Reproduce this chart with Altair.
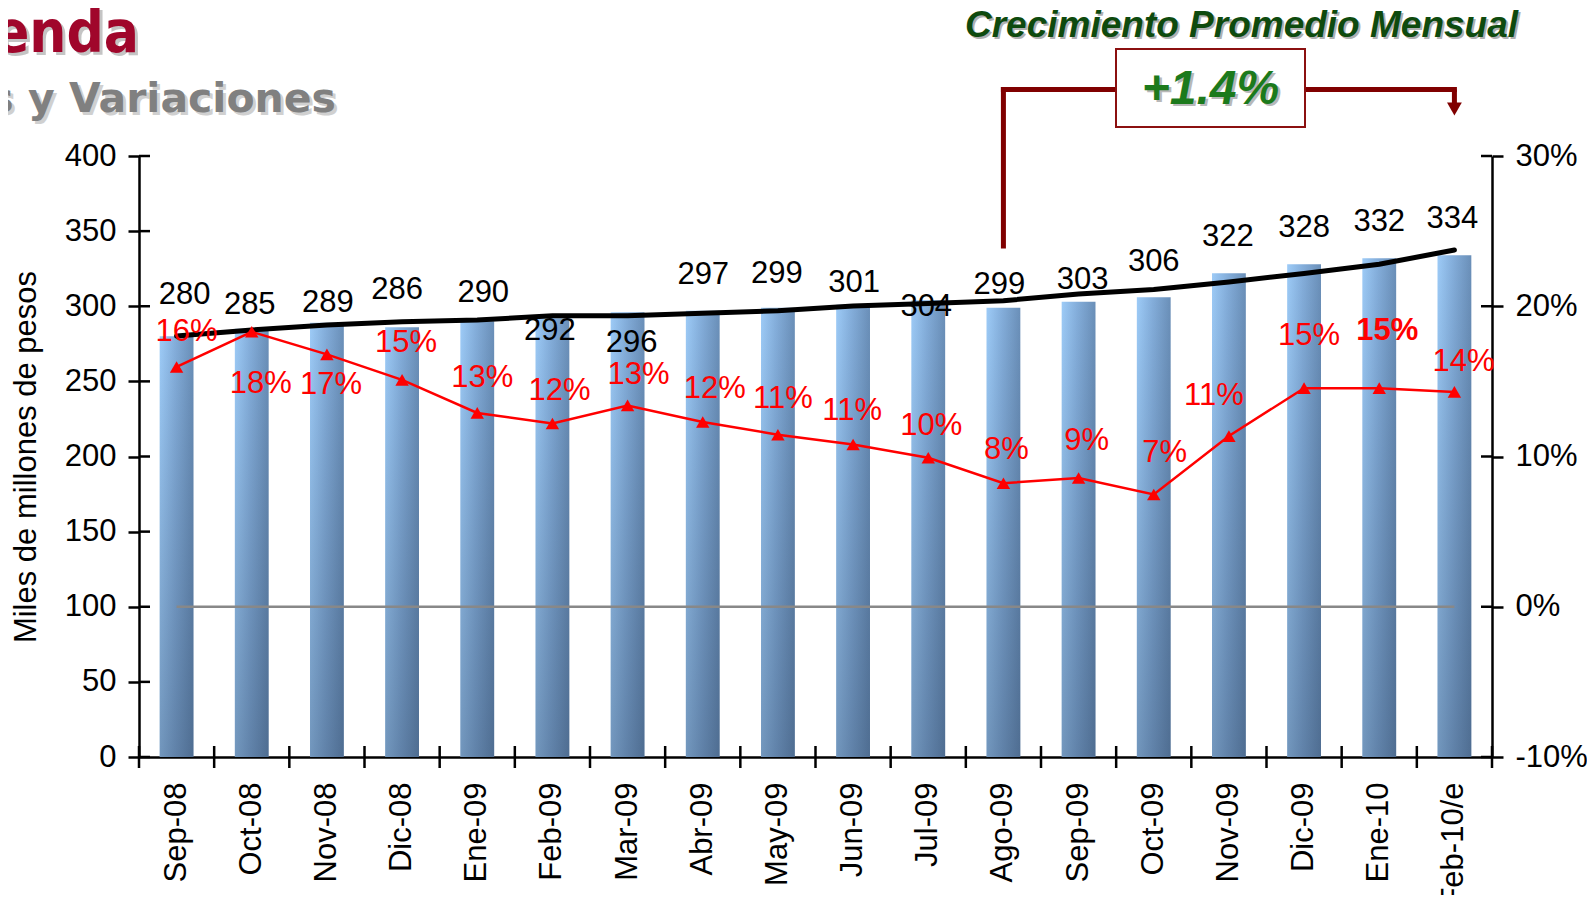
import altair as alt
import pandas as pd

# ---------------- data ----------------
meses = ["Sep-08", "Oct-08", "Nov-08", "Dic-08", "Ene-09", "Feb-09", "Mar-09", "Abr-09",
         "May-09", "Jun-09", "Jul-09", "Ago-09", "Sep-09", "Oct-09", "Nov-09", "Dic-09",
         "Ene-10", "Feb-10/e"]
saldo = [280, 285, 289, 286, 290, 292, 296, 297, 299, 301, 304, 299, 303, 306, 322, 328, 332, 334]
tendencia = [280.2, 284.2, 287.5, 289.7, 290.8, 293.7, 293.6, 295.3, 297.0, 300.1, 301.9,
             303.7, 308.1, 311.1, 316.2, 321.8, 328.0, 337.4]
variacion = [15.96, 18.3, 16.8, 15.1, 12.9, 12.2, 13.4, 12.3, 11.45, 10.8, 9.92, 8.22, 8.57,
             7.47, 11.36, 14.55, 14.55, 14.3]
destacado = [False] * 16 + [True, False]
ticks_izq = [0, 50, 100, 150, 200, 250, 300, 350, 400]
ticks_der = [-10, 0, 10, 20, 30]
mes_inicio_flecha = "Ago-09"
mes_fin_flecha = "Feb-10/e"
crecimiento = "+1.4%"

# label placement (pixel offsets from the point the label belongs to)
val_dx = [8, -2, 1, -5, 6, -2.5, 4, 0.5, -1, 1, -2, -4, 4, 0, -1, 0, 0, -2]
val_dy = [-41, -24, -19.5, -37, -28, 13, 31, -36, -34, -21.5, 7, -23, -22, -35.5, -36.5, -36, -36.5, -36]
pct_dx = [10, 9, 4, 4, 5, 7, 11, 12, 5, -1, 3, 3, 8, 11, -15, 5, 8, 9]
pct_dy = [-35, 52, 31, -37, -35, -32, -30, -33, -36, -33, -32, -33, -37, -42, -40, -52, -57, -30]

df = pd.DataFrame({"mes": meses, "saldo": saldo, "tendencia": tendencia, "pct": variacion})

FONT = "Liberation Sans"
FS = 31
W, H = 1353, 601
TICK = 11
STEP = W / len(meses)

xs = alt.Scale(domain=meses, paddingInner=0.55, paddingOuter=0.275)
x_axis = alt.Axis(labelAngle=270, labelAlign="right", labelBaseline="middle",
                  ticks=False, labelPadding=25, title=None)
X = alt.X("mes:N", sort=meses, scale=xs, axis=x_axis, title=None)

yl_scale = alt.Scale(domain=[0, 400], nice=False)
yl_axis = alt.Axis(values=ticks_izq, title="Miles de millones de pesos",
                   titleFontSize=FS, titleFontWeight="normal", titleFont=FONT,
                   titlePadding=22, labelPadding=12)
yr_scale = alt.Scale(domain=[-10, 30], nice=False)
yr_axis = alt.Axis(orient="right", values=ticks_der, title=None,
                   labelExpr="datum.value + '%'", labelPadding=12)


def YL(field):
    return alt.Y(field, scale=yl_scale, axis=yl_axis, title="Miles de millones de pesos")


def YR(field):
    return alt.Y(field, scale=yr_scale, axis=yr_axis, title=None)


base = alt.Chart(df)

grad_h = alt.LinearGradient(gradient="linear", x1=0, x2=1, y1=0, y2=0, stops=[
    alt.GradientStop(color="#9DCBF7", offset=0),
    alt.GradientStop(color="#84AEDB", offset=0.45),
    alt.GradientStop(color="#6A8FB8", offset=1)])
grad_v = alt.LinearGradient(gradient="linear", x1=0, x2=0, y1=0, y2=1, stops=[
    alt.GradientStop(color="rgba(15,30,55,0)", offset=0),
    alt.GradientStop(color="rgba(15,30,55,0.30)", offset=1)])

bars = base.mark_bar(color=grad_h).encode(x=X, y=YL("saldo:Q"))
bars_shade = base.mark_bar(color=grad_v).encode(x=X, y=YL("saldo:Q"))
trend = base.mark_line(color="black", strokeWidth=5, strokeCap="round").encode(
    x=X, y=YL("tendencia:Q"))

val_layers = []
for i, m in enumerate(meses):
    val_layers.append(
        base.transform_filter(alt.datum.mes == m).mark_text(
            font=FONT, fontSize=FS, color="black", baseline="middle",
            dx=val_dx[i], dy=val_dy[i]).encode(
            x=X, y=YL("saldo:Q"), text=alt.Text("saldo:Q", format=".0f")))

# inner halves of the crossing axis ticks and the category-boundary ticks
tl_df = pd.DataFrame({"v": ticks_izq})
inner_left = alt.Chart(tl_df).mark_rule(color="black", strokeWidth=2.5).encode(
    y=alt.Y("v:Q", scale=yl_scale, axis=yl_axis, title="Miles de millones de pesos"),
    x=alt.value(0), x2=alt.value(TICK))
bx_df = pd.DataFrame({"mes": meses})
x_ticks = alt.Chart(bx_df).mark_rule(color="black", strokeWidth=2.5, xOffset=-STEP / 2).encode(
    x=X, y=alt.value(H - TICK), y2=alt.value(H + TICK))
x_tick_end = alt.Chart(pd.DataFrame({"mes": [meses[-1]]})).mark_rule(
    color="black", strokeWidth=2.5, xOffset=STEP / 2).encode(
    x=X, y=alt.value(H - TICK), y2=alt.value(H + TICK))

# annotation (arrow from Ago-09 to Feb-10/e with the box)
ann_l = alt.Chart(pd.DataFrame({"mes": [mes_inicio_flecha]}))
ann_r = alt.Chart(pd.DataFrame({"mes": [mes_fin_flecha]}))
one = alt.Chart(pd.DataFrame({"k": [0]}))
DARKRED = "#800000"
conn_lv = ann_l.mark_rule(color=DARKRED, strokeWidth=5, strokeCap="square").encode(
    x=X, y=alt.value(-66.5), y2=alt.value(90))
conn_lh = ann_l.mark_rule(color=DARKRED, strokeWidth=5, strokeCap="square").encode(
    x=X, x2=alt.value(977), y=alt.value(-66.5))
conn_rh = ann_r.mark_rule(color=DARKRED, strokeWidth=5, strokeCap="square").encode(
    x=X, x2=alt.value(1166), y=alt.value(-66.5))
conn_rv = ann_r.mark_rule(color=DARKRED, strokeWidth=5).encode(
    x=X, y=alt.value(-66.5), y2=alt.value(-52))
arrow = ann_r.mark_point(shape="triangle-down", size=220, filled=True, color=DARKRED, opacity=1).encode(
    x=X, y=alt.value(-47))
box = one.mark_rect(fill="white", stroke="#8B1010", strokeWidth=2).encode(
    x=alt.value(977), x2=alt.value(1166), y=alt.value(-107), y2=alt.value(-29))
pct_box_shadow = one.mark_text(text=crecimiento, font=FONT, fontSize=48, fontWeight="bold",
                               fontStyle="italic", color="#B8B8B8", align="center",
                               baseline="middle").encode(x=alt.value(1074), y=alt.value(-64))
pct_box = one.mark_text(text=crecimiento, font=FONT, fontSize=48, fontWeight="bold",
                        fontStyle="italic", color="#1C7A1C", align="center",
                        baseline="middle").encode(x=alt.value(1071.5), y=alt.value(-66.5))
cpm_shadow = one.mark_text(text="Crecimiento Promedio Mensual", font=FONT, fontSize=37,
                           fontWeight="bold", fontStyle="italic", color="#B0B0B0",
                           align="center", baseline="alphabetic").encode(
    x=alt.value(1104.5), y=alt.value(-117))
cpm = one.mark_text(text="Crecimiento Promedio Mensual", font=FONT, fontSize=37,
                    fontWeight="bold", fontStyle="italic", color="#0E4A0E",
                    align="center", baseline="alphabetic").encode(
    x=alt.value(1102.5), y=alt.value(-119))
TFONT = "DejaVu Sans Condensed, DejaVu Sans"
t1_shadow = one.mark_text(text="enda", font=TFONT, fontSize=58, fontWeight="bold",
                          color="#C4C4C4", align="right", baseline="alphabetic").encode(
    x=alt.value(3), y=alt.value(-101))
t1 = one.mark_text(text="enda", font=TFONT, fontSize=58, fontWeight="bold",
                   color="#A0062B", align="right", baseline="alphabetic").encode(
    x=alt.value(0), y=alt.value(-104))
t2_shadow = one.mark_text(text="os y Variaciones", font="DejaVu Sans", fontSize=41, fontWeight="bold",
                          color="#D0D0D0", align="right", baseline="alphabetic").encode(
    x=alt.value(200), y=alt.value(-41))
t2 = one.mark_text(text="os y Variaciones", font="DejaVu Sans", fontSize=41, fontWeight="bold",
                   color="#808080", align="right", baseline="alphabetic").encode(
    x=alt.value(197), y=alt.value(-44))

left = alt.layer(bars, bars_shade, trend, *val_layers, inner_left, x_ticks, x_tick_end,
                 conn_lv, conn_lh, conn_rh, conn_rv, arrow,
                 box, pct_box_shadow, pct_box, cpm_shadow, cpm, t1_shadow, t1, t2_shadow, t2)

# right axis group
zero_df = pd.DataFrame({"mes": [meses[0]], "mes2": [meses[-1]], "pct": [0]})
zero_line = alt.Chart(zero_df).mark_rule(color="#888888", strokeWidth=2.5).encode(
    x=X, x2=alt.X2("mes2:N"), y=YR("pct:Q"))
red_line = base.mark_line(color="#FF0000", strokeWidth=2.5).encode(x=X, y=YR("pct:Q"))
red_pts = base.mark_point(shape="triangle-up", size=180, filled=True, color="#FF0000", opacity=1).encode(
    x=X, y=YR("pct:Q"))
red_layers = []
for i, m in enumerate(meses):
    red_layers.append(
        base.transform_filter(alt.datum.mes == m).transform_calculate(
            lab="format(datum.pct, '.0f') + '%'").mark_text(
            font=FONT, fontSize=FS, color="#FF0000", baseline="middle",
            fontWeight="bold" if destacado[i] else "normal",
            dx=pct_dx[i], dy=pct_dy[i]).encode(
            x=X, y=YR("pct:Q"), text="lab:N"))
tr_df = pd.DataFrame({"pct": ticks_der})
inner_right = alt.Chart(tr_df).mark_rule(color="black", strokeWidth=2.5).encode(
    y=YR("pct:Q"), x=alt.value(W - TICK), x2=alt.value(W))

right = alt.layer(zero_line, red_line, red_pts, *red_layers, inner_right)

chart = alt.layer(left, right).resolve_scale(y="independent").properties(
    width=W, height=H, autosize="none",
    padding={"left": 131, "top": 148, "right": 95, "bottom": 138},
    background="white",
).configure_view(stroke=None).configure_axis(
    labelFont=FONT, labelFontSize=FS, labelColor="black", domainColor="black",
    domainWidth=2.5, tickColor="black", tickWidth=2.5, tickSize=TICK, grid=False,
    titleColor="black",
)

chart.save("out.html", embed_options={"renderer": "svg", "actions": False})
